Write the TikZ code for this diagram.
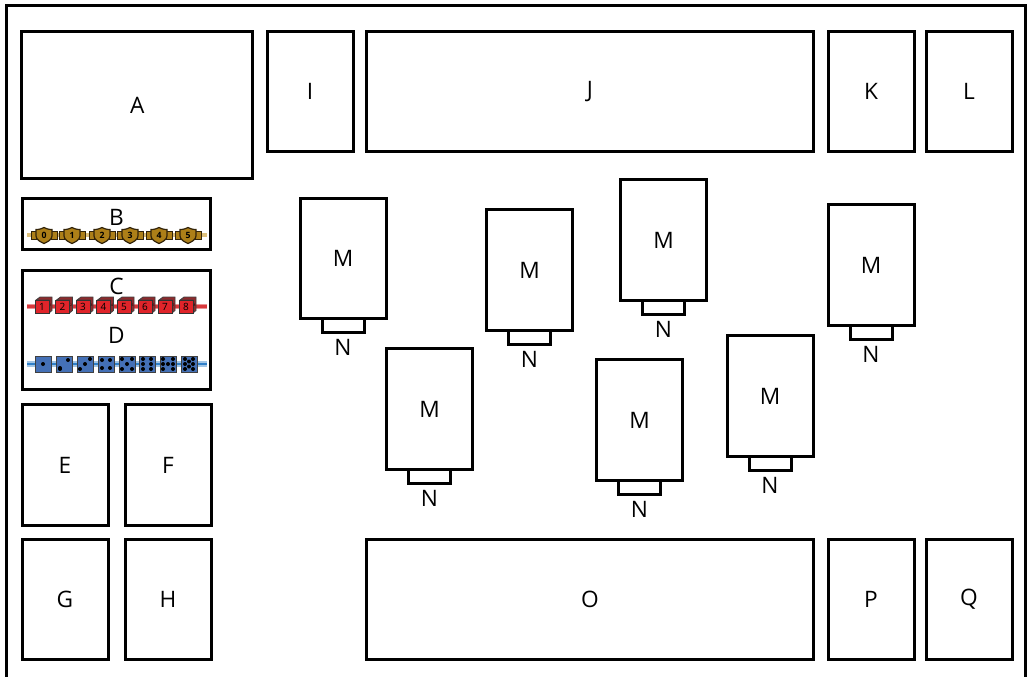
\documentclass[tikz,border=0pt]{standalone}
\usepackage{fontspec}
\setmainfont{Open Sans}
\usepackage{xcolor}
\usetikzlibrary{positioning,calc}
\definecolor{goldfill}{HTML}{AD7F18}
\definecolor{goldline}{HTML}{33240A}
\definecolor{goldstrip}{HTML}{CFA544}
\definecolor{redfill}{HTML}{E0242A}
\definecolor{redside}{HTML}{8E2A2C}
\definecolor{redstrip}{HTML}{D8383C}
\definecolor{bluefill}{HTML}{4470B6}
\definecolor{bluestrip}{HTML}{2F7FC8}
\tikzset{
  panel/.style={draw,line width=2.25pt,inner sep=0pt,font=\fontsize{17}{18}\selectfont},
  letter/.style={inner sep=0pt,font=\fontsize{17}{18}\selectfont},
  slot/.style={panel,minimum width=31.5pt,minimum height=10.5pt},
  tall/.style={panel,minimum width=64.5pt,minimum height=90.5pt},
  wide/.style={panel,minimum width=335.75pt,minimum height=90.5pt}
}
\begin{document}
\begin{tikzpicture}[x=0.75pt,y=-0.75pt]
\useasboundingbox (0,0) rectangle (1031,676);
\begin{scope}
\clip (0,0) rectangle (1031,676);
\draw[line width=2.25pt] (6.5,5) rectangle (1025,700);
\end{scope}
% top row
\node[panel,minimum width=173pt,minimum height=110.75pt] (A) at (137.25,105) {A};
\node[tall] (I) at (310,91.5) {I};
\node[wide] (J) at (590,91.5) {J};
\node[tall] (K) at (871,91.5) {K};
\node[tall] (L) at (969,91.5) {L};
% left column
\node[panel,minimum width=141.5pt,minimum height=38.75pt] (B) at (116.5,224) {};
\node[panel,minimum width=141.5pt,minimum height=89.75pt] (CD) at (116.5,330) {};
\node[letter] (Btext) at (116.5,217) {B};
\node[letter] (Ctext) at (116.5,286.5) {C};
\node[letter] (Dtext) at (116.5,335) {D};
\node[tall] (E) at (65,465) {E};
\node[tall] (F) at (168,465) {F};
\node[tall] (G) at (65,599.5) {G};
\node[tall] (H) at (168,599.5) {H};
% bottom row
\node[wide] (O) at (590,599.5) {O};
\node[tall] (P) at (871,599.5) {P};
\node[tall] (Q) at (969,599.5) {Q};
% middle boxes
\foreach \mx/\my [count=\mi] in {343/258.5,429.5/409,529.5/270,639.5/420,663.5/240,770/396,871/265}{
  \node[tall] (M\mi) at (\mx,\my) {M};
  \node[slot,below=-2.25pt of M\mi] (S\mi) {};
  \node[letter,below=3.8pt of S\mi] (N\mi) {N};
}
% gold tokens
\draw[goldstrip!70,line width=3.4pt] (27,235)--(207,235);
\foreach \gx [count=\gi from 0] in {44,72,102,130,159,188}{
  \draw[goldline,fill=goldfill,line width=0.7pt] (\gx-13,231)rectangle(\gx+13,239);
  \draw[goldline,fill=goldfill,line width=0.9pt] (\gx-8,229.5) .. controls (\gx-4,229.5) and (\gx-2,228.5) .. (\gx,227.5) .. controls (\gx+2,228.5) and (\gx+4,229.5) .. (\gx+8,229.5) -- (\gx+8,236) .. controls (\gx+8,240) and (\gx+3,242) .. (\gx,243.5) .. controls (\gx-3,242) and (\gx-8,240) .. (\gx-8,236) -- cycle;
  \node[inner sep=0pt,font=\fontsize{6.5}{6.5}\selectfont\bfseries,text=black] (g\gi) at (\gx,235.5) {\gi};
}
% red cubes
\draw[redstrip!55,line width=4.4pt] (27,306.5)--(207,306.5);
\draw[redstrip,line width=2.2pt] (27,306.5)--(207,306.5);
\foreach \cx [count=\ci] in {43,63.5,84,104.5,125,146,166,187}{
  \draw[black!75,fill=redside,line width=0.6pt] (\cx-7,300)--(\cx-3,297)--(\cx+9,297)--(\cx+9,310.5)--(\cx+6,313)--(\cx+6,300)--cycle;
  \draw[black!80,fill=redfill,line width=0.6pt] (\cx-8,300) rectangle (\cx+6,313);
  \node[inner sep=0pt,font=\fontsize{7.5}{7.5}\selectfont,text=black] (c\ci) at (\cx-1,306.5) {\ci};
  \node[inner sep=0pt,font=\fontsize{2.5}{2.5}\selectfont,text=black] (cs\ci) at (\cx+7.5,305) {\ci};
}
% blue dice
\draw[bluestrip!45,line width=4.4pt] (27,364)--(207,364);
\draw[bluestrip,line width=2.2pt] (27,364)--(207,364);
\foreach \dx/\pips in {43/{0/0},64/{-4/4,4/-4,-4/5},85/{-5/5,0/0,5/-5},106/{-4/-4,4/-4,-4/4,4/4},127/{-5/-5,5/-5,-5/5,5/5,0/0},147/{-4/-5,4/-5,-4/0,4/0,-4/5,4/5},168/{-5/-5,5/-5,-5/0,5/0,-5/5,5/5,0/0},189/{-4/-5,4/-5,-4/0,4/0,-4/5,4/5,0/-2.5,0/2.5}}{
  \draw[black!75,fill=bluefill,line width=0.7pt] (\dx-8,356) rectangle (\dx+8,372);
  \foreach \pa/\pb in \pips{
    \fill[black] (\dx+\pa,364+\pb) circle (2);
  }
}
\end{tikzpicture}
\end{document}
